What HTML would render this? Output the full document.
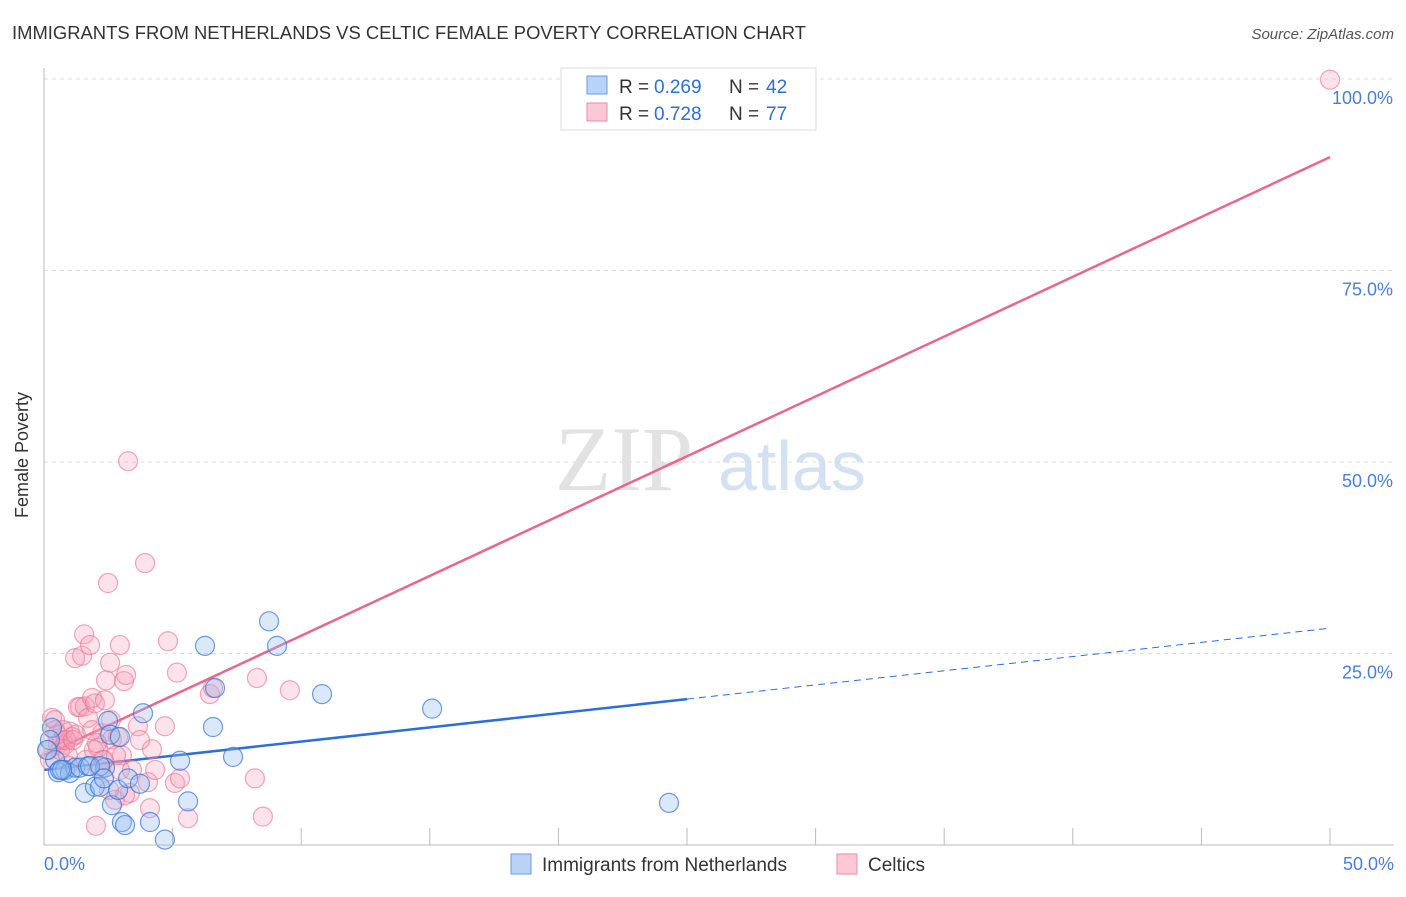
<!DOCTYPE html>
<html><head><meta charset="utf-8"><style>
body{margin:0;background:#fff;font-family:"Liberation Sans",sans-serif}
</style></head><body>
<svg width="1406" height="892" xmlns="http://www.w3.org/2000/svg" id="chart" font-family="Liberation Sans, sans-serif">
<text x="12" y="39" font-size="18" fill="#333" textLength="794" lengthAdjust="spacingAndGlyphs">IMMIGRANTS FROM NETHERLANDS VS CELTIC FEMALE POVERTY CORRELATION CHART</text>
<text x="1394" y="39" font-size="15" fill="#555" font-style="italic" text-anchor="end">Source: ZipAtlas.com</text>
<text x="28" y="455" font-size="18" fill="#333" text-anchor="middle" transform="rotate(-90 28 455)">Female Poverty</text>
<g><text x="555" y="490" font-size="92" font-family="Liberation Serif, serif" fill="#e2e2e2">ZIP</text><text x="718" y="490" font-size="70" fill="#d3e1f3">atlas</text></g>
<g id="grid"></g><g id="trend"></g><g id="pts"></g>
<line x1="44" y1="68" x2="44" y2="845" stroke="#bbb"/>
<line x1="44" y1="845" x2="1394" y2="845" stroke="#bbb"/>
<text x="44" y="870" font-size="18" fill="#4a7fd4">0.0%</text>
<text x="1394" y="870" font-size="18" fill="#4a7fd4" text-anchor="end">50.0%</text>
<g>
<rect x="561" y="68" width="255" height="62" fill="#fff" stroke="#ddd"/>
<rect x="587" y="76" width="20" height="18" fill="#b8d3f5" stroke="#6a9be0"/>
<rect x="587" y="103" width="20" height="18" fill="#fbc8d6" stroke="#ec8aa8"/>
<text x="619" y="93" font-size="19" fill="#333">R = </text><text x="654" y="93" font-size="19" fill="#2d6fd6">0.269</text>
<text x="729" y="93" font-size="19" fill="#333">N = </text><text x="766" y="93" font-size="19" fill="#2d6fd6">42</text>
<text x="619" y="120" font-size="19" fill="#333">R = </text><text x="654" y="120" font-size="19" fill="#2d6fd6">0.728</text>
<text x="729" y="120" font-size="19" fill="#333">N = </text><text x="766" y="120" font-size="19" fill="#2d6fd6">77</text>
</g>
<g>
<rect x="511" y="854" width="20" height="20" fill="#b8d3f5" stroke="#6a9be0"/>
<text x="542" y="871" font-size="19" fill="#333">Immigrants from Netherlands</text>
<rect x="837" y="854" width="20" height="20" fill="#fbc8d6" stroke="#ec8aa8"/>
<text x="868" y="871" font-size="19" fill="#333">Celtics</text>
</g>
</svg>
<script>
const yTicks=[25,50,75,100];
const yTickLabels=["25.0%","50.0%","75.0%","100.0%"];
const xTicks=[5,10,15,20,25,30,35,40,45,50];
const blueX=[0.31,0.43,0.54,0.82,1.01,1.21,1.40,1.59,1.71,1.98,2.18,2.37,2.49,2.57,2.64,2.88,2.95,3.03,3.15,3.27,3.73,3.85,4.12,4.70,5.29,5.60,6.26,6.57,6.65,7.35,8.75,9.06,10.81,15.09,24.30,0.23,0.62,1.79,2.18,2.33,0.70,0.12];
const blueY=[15.3,11.1,9.5,9.8,9.4,10.1,10.1,6.8,10.3,7.6,7.6,10.1,16.2,14.4,5.2,7.2,14.1,3.0,2.6,8.7,8.0,17.2,3.0,0.7,11.0,5.7,26.0,15.4,20.5,11.5,29.2,26.0,19.7,17.8,5.5,13.7,9.8,10.3,10.3,8.7,9.8,12.4];
const pinkX=[0.31,0.43,0.54,0.62,0.70,0.82,0.93,1.01,1.09,1.21,1.32,1.40,1.48,1.56,1.59,1.71,1.79,1.87,1.98,2.02,2.10,2.18,2.26,2.33,2.41,2.49,2.57,2.64,2.76,2.88,2.95,3.03,3.11,3.19,3.27,3.34,3.65,3.93,4.04,4.12,4.20,4.32,4.70,4.82,5.09,5.17,5.29,5.60,6.45,6.57,8.20,8.28,8.51,9.56,50.0,0.23,0.43,0.51,0.74,0.86,0.16,1.13,1.24,1.63,1.94,2.06,2.29,2.60,2.80,2.95,3.15,2.53,3.42,3.73,2.37,1.87,0.93];
const pinkY=[16.6,15.0,13.1,12.4,13.7,13.1,11.7,14.8,14.1,24.4,18.0,18.0,24.7,27.5,18.1,16.6,26.1,19.2,18.5,2.5,12.7,9.8,14.6,11.1,21.5,34.2,23.8,13.8,5.9,14.1,26.1,11.7,21.4,22.2,50.1,6.8,15.5,36.8,8.2,4.8,12.5,9.8,15.5,26.6,8.1,22.5,8.7,3.5,19.7,20.5,8.7,21.8,3.7,20.2,99.9,11.1,16.3,14.4,15.0,13.7,12.4,13.7,14.4,11.1,12.4,13.3,11.1,16.3,11.7,9.8,6.5,7.2,9.8,13.7,18.9,15.0,10.4];
const blueTrend=[9.8,28.3];
const blueSolidEnd=25;
const pinkTrend=[11.7,89.8];
const xs=v=>44+v/50*1286;
const ys=v=>845-v/100*766;
const NS="http://www.w3.org/2000/svg";
function mk(parent,tag,attrs){const e=document.createElementNS(NS,tag);for(const k in attrs)e.setAttribute(k,attrs[k]);document.getElementById(parent).appendChild(e);return e;}
yTicks.forEach((t,i)=>{
 const l=mk('grid','line',{x1:44,x2:1394,y1:ys(t),y2:ys(t),stroke:'#ddd','stroke-dasharray':'4 4'});
 
 
 const tx=mk('grid','text',{x:1393,y:ys(t)+25,'font-size':18,fill:'#4a7fd4','text-anchor':'end'});
 tx.textContent=yTickLabels[i];
 
 
});
xTicks.forEach(t=>{
 const l=mk('grid','line',{x1:xs(t),x2:xs(t),y1:828,y2:845,stroke:'#bbb'});
 
 
});
const lerp=(a,x)=>a[0]+(a[1]-a[0])*x/50;
let e=mk('trend','line',{x1:xs(0),y1:ys(lerp(blueTrend,0)),x2:xs(blueSolidEnd),y2:ys(lerp(blueTrend,blueSolidEnd)),stroke:'#2d6fd6','stroke-width':2.5});


e=mk('trend','line',{x1:xs(blueSolidEnd),y1:ys(lerp(blueTrend,blueSolidEnd)),x2:xs(50),y2:ys(lerp(blueTrend,50)),stroke:'#2d6fd6','stroke-width':1,'stroke-dasharray':'7 5'});


e=mk('trend','line',{x1:xs(0),y1:ys(lerp(pinkTrend,0)),x2:xs(50),y2:ys(lerp(pinkTrend,50)),stroke:'#e8678f','stroke-width':2.5});


pinkX.forEach((x,i)=>{
 const c=mk('pts','circle',{cx:xs(x),cy:ys(pinkY[i]),r:9.5,fill:'rgba(245,160,185,0.3)',stroke:'rgba(232,110,145,0.6)','stroke-width':1.2});
 
 
});
blueX.forEach((x,i)=>{
 const c=mk('pts','circle',{cx:xs(x),cy:ys(blueY[i]),r:9.5,fill:'rgba(150,190,240,0.35)',stroke:'rgba(50,115,215,0.7)','stroke-width':1.2});
 
 
});
</script>
</body></html>
